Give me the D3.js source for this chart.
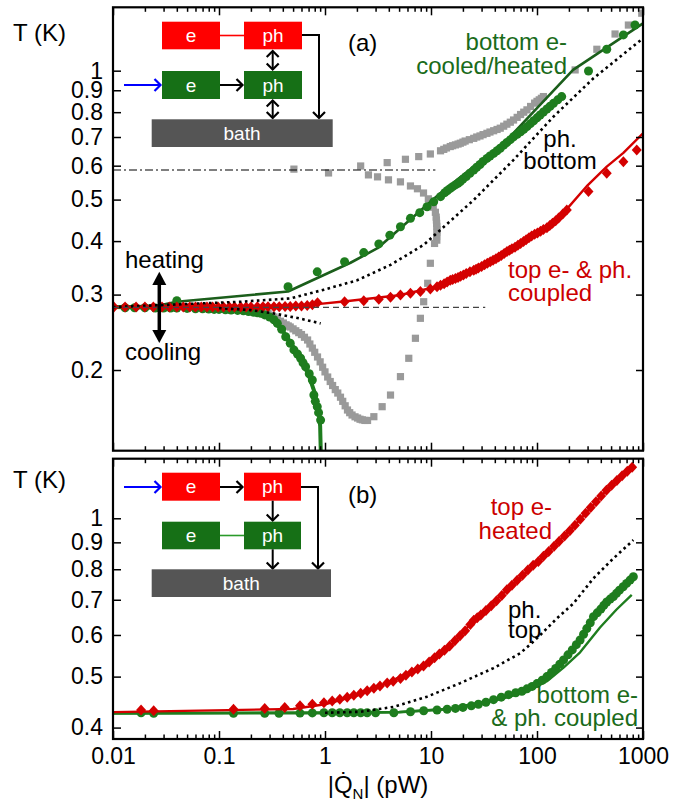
<!DOCTYPE html>
<html><head><meta charset="utf-8">
<script src="https://cdn.jsdelivr.net/npm/d3@7"></script>
<style>body{margin:0;background:#fff} svg{display:block} text{font-family:"Liberation Sans",Arial,Helvetica,sans-serif}</style>
</head><body><svg id="c" width="685" height="805"></svg>
<script>
// ---------------- DATA ----------------
const xMajorTicks = [0.01, 0.1, 1, 10, 100, 1000];
const xTickLabels = ["0.01", "0.1", "1", "10", "100", "1000"];
const yTicksA = [0.2, 0.3, 0.4, 0.5, 0.6, 0.7, 0.8, 0.9, 1];
const yTicksB = [0.4, 0.5, 0.6, 0.7, 0.8, 0.9, 1];
const yTickLabels = {0.2:"0.2",0.3:"0.3",0.4:"0.4",0.5:"0.5",0.6:"0.6",0.7:"0.7",0.8:"0.8",0.9:"0.9",1:"1"};

// Panel (a) reference lines: [T, Qstart, Qend]
const aDashLine = [0.28, 0.01, 32.5];
const aDashDotLine = [0.586, 0.01, 11];

// Panel (a): top e- & ph. coupled (red diamonds) [Q (pW), T (K)]
const aRedPts = [[0.0102,0.2805],[0.013,0.2805],[0.0165,0.2805],[0.020,0.2805],[0.024,0.2805],[0.029,0.2805],[0.034,0.2805],[0.040,0.2805],[0.046,0.2805],[0.053,0.2805],[0.060,0.2805],[0.068,0.2805],[0.077,0.2805],[0.087,0.2805],[0.098,0.2805],[0.11,0.2805],[0.125,0.2805],[0.14,0.2805],[0.16,0.2805],[0.18,0.2805],[0.20,0.2805],[0.23,0.281],[0.26,0.281],[0.29,0.281],[0.33,0.281],[0.37,0.281],[0.42,0.2815],[0.47,0.2815],[0.53,0.282],[0.60,0.282],[0.68,0.283],[0.76,0.284],[0.85,0.287],[1.53,0.2887],[2.32,0.2903],[3.22,0.2924],[4.15,0.2956],[5.15,0.2993],[6.4,0.302],[7.94,0.305],[9.86,0.309],[11.4,0.313],[12.3,0.3155],[13.3,0.318],[14.2,0.321],[15.2,0.324],[16,0.3255],[17,0.327],[18,0.329],[19,0.331],[20.2,0.3335],[21.5,0.336],[23.3,0.339],[25.3,0.342],[26.6,0.344],[28,0.346],[30,0.349],[32,0.352],[34,0.355],[36.2,0.358],[38.5,0.361],[41,0.364],[43.5,0.367],[46,0.370],[49,0.374],[52.1,0.378],[55,0.381],[58,0.384],[62,0.387],[66,0.391],[70,0.395],[74.6,0.399],[79,0.403],[84,0.407],[89,0.411],[95,0.415],[101,0.418],[108,0.422],[115,0.426],[124,0.430],[132,0.435],[140,0.44],[150,0.446],[160,0.453],[175,0.463],[191,0.473],[306,0.522],[455,0.576],[653,0.613],[873,0.653]];
const aRedLine = [[0.01,0.2805],[0.5,0.282],[0.85,0.285],[1.5,0.289],[5,0.299],[11.4,0.313],[25.3,0.343],[52,0.38],[124,0.432],[191,0.475],[300,0.54],[455,0.597],[653,0.643],[1000,0.714]];

// Panel (a): bottom e- heated (green dots, upper branch)
const aGreenHeatPts = [[0.040,0.2903],[0.448,0.313],[0.845,0.339],[1.53,0.358],[2.32,0.376],[3.22,0.394],[4.09,0.413],[5.15,0.432],[6.40,0.452],[7.83,0.466],[9.18,0.481],[10.6,0.494],[12.3,0.508],[13.5,0.519],[14.3,0.525],[15.2,0.531],[16,0.536],[17,0.541],[18,0.546],[18.9,0.551],[20,0.558],[21.5,0.566],[23.3,0.576],[25.3,0.586],[27,0.595],[29,0.604],[31,0.614],[33.7,0.624],[36,0.632],[39,0.641],[42,0.65],[45,0.659],[48.5,0.67],[52,0.68],[56,0.69],[60.1,0.701],[65,0.71],[70,0.72],[75,0.73],[80.4,0.74],[86.5,0.752],[93,0.764],[100,0.776],[107,0.788],[115,0.801],[124,0.814],[133,0.826],[143,0.839],[157,0.855],[171,0.870],[306,0.998],[455,1.122],[653,1.212],[841,1.278]];
// Panel (a): bottom e- cooled (green dots, lower branch)
const aGreenCoolPts = [[0.013,0.2795],[0.016,0.2795],[0.02,0.2795],[0.025,0.279],[0.03,0.279],[0.035,0.279],[0.04,0.279],[0.05,0.2785],[0.06,0.278],[0.07,0.278],[0.08,0.2775],[0.09,0.277],[0.1,0.277],[0.115,0.2765],[0.13,0.276],[0.15,0.2755],[0.17,0.275],[0.19,0.274],[0.21,0.273],[0.23,0.272],[0.248,0.2712],[0.27,0.269],[0.3,0.266],[0.33,0.262],[0.355,0.257],[0.39,0.249],[0.426,0.2391],[0.47,0.231],[0.509,0.2228],[0.55,0.218],[0.589,0.213],[0.62,0.208],[0.656,0.2035],[0.71,0.196],[0.759,0.1895],[0.785,0.1748],[0.81,0.169],[0.845,0.1642],[0.87,0.159],[0.909,0.1528]];
const aGreenHeatLine = [[0.01,0.2805],[0.027,0.283],[0.04,0.2887],[0.448,0.305],[1.74,0.356],[3.13,0.385],[12.3,0.518],[52.1,0.689],[219,1.004],[1000,1.29]];
const aGreenCoolLine = [[0.01,0.2805],[0.1,0.278],[0.2,0.274],[0.3,0.265],[0.4,0.247],[0.5,0.227],[0.6,0.21],[0.7,0.195],[0.8,0.177],[0.87,0.16],[0.9,0.148],[0.915,0.125]];
// Panel (a): phonon bottom (black dotted)
const aPhHeat = [[0.01,0.2805],[0.16,0.2887],[0.474,0.294],[0.977,0.308],[2.01,0.324],[4.15,0.352],[8.53,0.392],[25.3,0.499],[60.1,0.619],[143,0.781],[341,0.96],[1000,1.19]];
const aPhCool = [[0.1,0.279],[0.2,0.276],[0.33,0.271],[0.55,0.2645],[0.91,0.257]];
// Panel (a): gray squares
const aGrayPts = [[0.2,0.278],[0.25,0.276],[0.29,0.271],[0.31,0.2685],[0.33,0.266],[0.355,0.263],[0.38,0.26],[0.405,0.2575],[0.43,0.255],[0.45,0.2535],[0.47,0.252],[0.5,0.2495],[0.53,0.247],[0.565,0.2445],[0.6,0.242],[0.64,0.2385],[0.685,0.235],[0.72,0.23],[0.76,0.225],[0.8,0.22],[0.85,0.2145],[0.9,0.209],[0.95,0.203],[1.0,0.198],[1.06,0.1926],[1.12,0.188],[1.18,0.184],[1.25,0.18],[1.32,0.1767],[1.4,0.1728],[1.47,0.169],[1.55,0.165],[1.63,0.1613],[1.71,0.159],[1.8,0.157],[1.92,0.1555],[2.03,0.1545],[2.14,0.1535],[2.25,0.153],[2.38,0.1525],[2.52,0.1525],[2.89,0.1556],[3.46,0.1642],[4.15,0.1748],[5.15,0.193],[6.17,0.213],[7.13,0.2372],[7.94,0.2641],[8.53,0.2887],[9.31,0.3188],[9.86,0.355],[10.8,0.395],[11.35,0.402],[11.3,0.41],[11.4,0.418],[11.4,0.425],[11.35,0.433],[11.3,0.44],[11.25,0.448],[11.2,0.455],[11,0.467],[10.5,0.48],[9.44,0.502],[8.5,0.518],[7.45,0.530],[6.4,0.538],[5.15,0.55],[3.97,0.556],[3.13,0.565],[2.57,0.571],[1.08,0.577],[0.509,0.589],[2.17,0.599],[3.86,0.610],[5.74,0.621],[7.66,0.63],[9.86,0.639],[12.3,0.65],[13.2,0.655],[14,0.66],[15.2,0.665],[16,0.668],[17,0.671],[18,0.674],[18.9,0.677],[20,0.681],[21,0.685],[23,0.69],[25.3,0.695],[27,0.70],[29,0.704],[31,0.709],[33.7,0.714],[36,0.719],[39,0.724],[42,0.729],[45,0.734],[48.5,0.742],[52,0.75],[56,0.758],[60.1,0.767],[65,0.778],[70,0.79],[75,0.8],[80.4,0.81],[87,0.825],[95,0.84],[100,0.848],[105,0.855],[110,0.862],[115,0.87],[229,1.004],[367,1.122],[545,1.218],[728,1.278],[973,1.362]];

// Panel (b): top e- heated (red diamonds)
const bRedPts = [[0.0184,0.432],[0.0242,0.4306],[0.137,0.4334],[0.27,0.435],[0.417,0.437],[0.581,0.440],[0.759,0.443],[0.977,0.446],[1.17,0.4496],[1.38,0.453],[1.62,0.457],[1.87,0.461],[2.17,0.465],[2.5,0.47],[2.89,0.475],[3.3,0.48],[3.86,0.486],[4.4,0.49],[5.15,0.496],[5.8,0.503],[6.6,0.51],[7.5,0.517],[8.5,0.524],[9.6,0.533],[10.8,0.543],[12,0.552],[13.4,0.561],[15,0.572],[16.8,0.585],[18.8,0.598],[21,0.611],[23.5,0.628],[25.3,0.640],[27.3,0.647],[29.5,0.655],[33,0.668],[37,0.682],[41.5,0.697],[46.5,0.713],[52,0.731],[58,0.746],[65,0.762],[73,0.779],[82,0.797],[92,0.814],[103,0.828],[115,0.847],[129,0.865],[145,0.885],[162,0.904],[182,0.925],[204,0.947],[228,0.97],[256,0.996],[287,1.022],[321,1.048],[360,1.075],[403,1.103],[452,1.131],[506,1.155],[567,1.18],[635,1.205],[711,1.228],[790,1.25]];
const bRedLine = [[0.01,0.428],[0.5,0.434],[1,0.443],[2,0.46],[4.46,0.493],[9.2,0.53],[16.3,0.579],[25.3,0.64],[52,0.731],[107,0.833],[221,0.964],[455,1.132],[811,1.254]];
// Panel (b): bottom e- & ph. coupled (green dots + two model lines)
const bGreenPts = [[0.0184,0.4268],[0.0242,0.4257],[0.137,0.4257],[0.27,0.4257],[0.368,0.4257],[0.581,0.4262],[0.759,0.4265],[0.977,0.4268],[1.17,0.4268],[1.38,0.4268],[1.62,0.4268],[1.87,0.4268],[2.17,0.4268],[2.5,0.4268],[3.0,0.4268],[4.46,0.4268],[6.4,0.4287],[8.53,0.4306],[11.4,0.432],[14.2,0.4334],[17,0.435],[20,0.437],[24,0.44],[28,0.443],[33,0.447],[38.9,0.452],[46,0.457],[54,0.462],[63,0.466],[72,0.469],[80.4,0.474],[90,0.479],[100,0.485],[112,0.492],[124,0.5],[137,0.509],[150,0.518],[164,0.528],[178,0.538],[196,0.55],[215,0.562],[235,0.575],[255,0.587],[275,0.602],[295,0.617],[318,0.633],[341,0.65],[370,0.661],[400,0.672],[427,0.683],[455,0.693],[490,0.702],[526,0.71],[562,0.72],[600,0.73],[650,0.741],[700,0.752],[755,0.763],[811,0.774]];
const bGreenLine1 = [[0.01,0.4257],[1,0.4262],[5,0.428],[15,0.434],[40,0.452],[80,0.472],[124,0.5],[178,0.538],[255,0.587],[341,0.648],[526,0.71],[811,0.772]];
const bGreenLine2 = [[0.01,0.4257],[5,0.428],[15,0.434],[40,0.45],[80,0.468],[124,0.49],[178,0.52],[255,0.556],[393,0.62],[560,0.67],[783,0.715]];
// Panel (b): phonon top (black dotted)
const bPhTop = [[1,0.4268],[2.17,0.4287],[4.46,0.438],[9.18,0.458],[18.9,0.486],[38.9,0.519],[69.5,0.554],[96.2,0.587],[154,0.645],[221,0.689],[341,0.769],[526,0.839],[811,0.909]];

// ---------------- STYLE ----------------
const RED = "#d40000", RED_BOX = "#ff0000", GREEN = "#1e7d1e", GREEN_LINE = "#1b5e1b", GREEN_BOX = "#167016",
      GRAY = "#9a9a9a", TXT_GREEN = "#1a6b1a", TXT_RED = "#cc0000", FS = 24, TFS = 23;

const svg = d3.select("#c");
const x = d3.scaleLog().domain([0.01, 1000]).range([113, 643]);
const yA = d3.scaleLog().domain([0.1296, 1.406]).range([450.7, 7.3]);
const yB = d3.scaleLog().domain([0.3805, 1.298]).range([739, 458.7]);

const xMinor = [];
xMajorTicks.slice(0, -1).forEach(d => { for (let k = 2; k <= 9; k++) xMinor.push(d * k); });

const defs = svg.append("defs");
defs.append("clipPath").attr("id", "clipA").append("rect").attr("x", 113).attr("y", 7.3).attr("width", 530).attr("height", 443.4);
defs.append("clipPath").attr("id", "clipB").append("rect").attr("x", 113).attr("y", 458.7).attr("width", 530).attr("height", 280.3);

function axes(y, yTicks, labelsX) {
  const [b, t] = y.range();
  const fmtNone = () => "";
  const styleAx = g => { g.select(".domain").remove(); g.selectAll(".tick line").attr("stroke", "#000").attr("stroke-width", 1.5);
    g.selectAll("text").attr("font-size", TFS).attr("fill", "#000").attr("font-family", "Liberation Sans, Arial, sans-serif"); };
  svg.append("g").attr("transform", `translate(0,${b})`).call(d3.axisBottom(x).tickValues(xMajorTicks).tickSize(-8).tickPadding(9)
     .tickFormat(labelsX ? ((d, i) => xTickLabels[i]) : fmtNone)).call(styleAx);
  svg.append("g").attr("transform", `translate(0,${b})`).call(d3.axisBottom(x).tickValues(xMinor).tickSize(-4.5).tickFormat(fmtNone)).call(styleAx);
  svg.append("g").attr("transform", `translate(0,${t})`).call(d3.axisTop(x).tickValues(xMajorTicks).tickSize(-8).tickFormat(fmtNone)).call(styleAx);
  svg.append("g").attr("transform", `translate(0,${t})`).call(d3.axisTop(x).tickValues(xMinor).tickSize(-4.5).tickFormat(fmtNone)).call(styleAx);
  svg.append("g").attr("transform", `translate(113,0)`).call(d3.axisLeft(y).tickValues(yTicks).tickSize(-8).tickPadding(10)
     .tickFormat(d => yTickLabels[d])).call(styleAx);
  svg.append("g").attr("transform", `translate(643,0)`).call(d3.axisRight(y).tickValues(yTicks).tickSize(-7).tickFormat(fmtNone)).call(styleAx);
  svg.append("rect").attr("x", 113).attr("y", t).attr("width", 530).attr("height", b - t)
     .attr("fill", "none").attr("stroke", "#000").attr("stroke-width", 2.2);
}

function linePath(g, y, data, color, width, dash) {
  g.append("path").datum(data).attr("d", d3.line().x(d => x(d[0])).y(d => y(d[1])))
    .attr("fill", "none").attr("stroke", color).attr("stroke-width", width)
    .attr("stroke-dasharray", dash || null).attr("stroke-linejoin", "round");
}
function dots(g, y, data, color, r) {
  g.selectAll(null).data(data).enter().append("circle").attr("cx", d => x(d[0])).attr("cy", d => y(d[1])).attr("r", r).attr("fill", color);
}
function diamonds(g, y, data, color) {
  g.selectAll(null).data(data).enter().append("path").attr("d", "M0,-5.5L5,0L0,5.5L-5,0Z")
    .attr("transform", d => `translate(${x(d[0])},${y(d[1])})`).attr("fill", color);
}
function squares(g, y, data, color) {
  g.selectAll(null).data(data).enter().append("rect").attr("x", d => x(d[0]) - 3.6).attr("y", d => y(d[1]) - 3.6)
    .attr("width", 7.2).attr("height", 7.2).attr("fill", color);
}
function label(lines, xPos, yPos, anchor, color, lh) {
  const t = svg.append("text").attr("x", xPos).attr("y", yPos).attr("text-anchor", anchor).attr("font-size", FS).attr("fill", color);
  lines.forEach((s, i) => t.append("tspan").attr("x", xPos).attr("y", yPos + i * lh).text(s));
}

// ---------------- PANEL A ----------------
const gA = svg.append("g").attr("clip-path", "url(#clipA)");
squares(gA, yA, aGrayPts, GRAY);
dots(gA, yA, aGreenCoolPts, GREEN, 4.5);
linePath(gA, yA, aGreenCoolLine, GREEN, 4);
linePath(gA, yA, aGreenHeatLine, GREEN_LINE, 2.6);
dots(gA, yA, aGreenHeatPts, GREEN, 4.5);
linePath(gA, yA, aRedLine, RED, 2.4);
diamonds(gA, yA, aRedPts, RED);
linePath(gA, yA, aPhHeat, "#000", 2.6, "2.6,3.4");
linePath(gA, yA, aPhCool, "#000", 2.6, "2.6,3.4");
gA.append("line").attr("x1", x(aDashLine[1])).attr("x2", x(aDashLine[2])).attr("y1", yA(aDashLine[0])).attr("y2", yA(aDashLine[0]))
  .attr("stroke", "#444").attr("stroke-width", 1.3).attr("stroke-dasharray", "6,4");
gA.append("line").attr("x1", x(aDashDotLine[1])).attr("x2", x(aDashDotLine[2])).attr("y1", yA(aDashDotLine[0])).attr("y2", yA(aDashDotLine[0]))
  .attr("stroke", "#000").attr("stroke-width", 1.1).attr("stroke-dasharray", "8,3,2,3");
axes(yA, yTicksA, false);

// ---------------- PANEL B ----------------
const gB = svg.append("g").attr("clip-path", "url(#clipB)");
linePath(gB, yB, bGreenLine2, GREEN, 2.4);
linePath(gB, yB, bGreenLine1, GREEN, 2.8);
dots(gB, yB, bGreenPts, GREEN, 4.5);
linePath(gB, yB, bRedLine, RED, 2.4);
diamonds(gB, yB, bRedPts, RED);
linePath(gB, yB, bPhTop, "#000", 2.6, "2.6,3.4");
axes(yB, yTicksB, true);

// ---------------- TEXT ----------------
svg.append("text").attr("x", 13).attr("y", 41).attr("font-size", FS).text("T (K)");
svg.append("text").attr("x", 13).attr("y", 488).attr("font-size", FS).text("T (K)");
const xt = svg.append("text").attr("x", 378).attr("y", 793).attr("text-anchor", "middle").attr("font-size", FS);
xt.append("tspan").text("|Q\u0307");
xt.append("tspan").attr("font-size", 15).attr("dy", 6).text("N");
xt.append("tspan").attr("dy", -6).text("| (pW)");

label(["(a)"], 348, 51, "start", "#000", 0);
label(["bottom e-", "cooled/heated"], 567, 50, "end", TXT_GREEN, 23.5);
label(["ph.", "bottom"], 560, 147, "middle", "#000", 21.5);
label(["top e- & ph.", "coupled"], 508, 278, "start", TXT_RED, 23);
label(["heating"], 125, 268, "start", "#000", 0);
label(["cooling"], 125, 360, "start", "#000", 0);
label(["(b)"], 348, 503, "start", "#000", 0);
label(["top e-", "heated"], 552, 515, "end", TXT_RED, 24);
label(["ph.", "top"], 508, 618, "start", "#000", 20);
label(["bottom e-", "& ph. coupled"], 638, 703, "end", TXT_GREEN, 22.5);

// heating / cooling arrow
svg.append("line").attr("x1", 159.3).attr("x2", 159.3).attr("y1", 282).attr("y2", 333).attr("stroke", "#000").attr("stroke-width", 3.5);
svg.append("path").attr("d", "M159.3,271.7L152.3,285L166.3,285Z").attr("fill", "#000");
svg.append("path").attr("d", "M159.3,343L152.3,330L166.3,330Z").attr("fill", "#000");

// ---------------- SCHEMATICS ----------------
function box(x0, y0, w, h, fill, txt) {
  svg.append("rect").attr("x", x0).attr("y", y0).attr("width", w).attr("height", h).attr("fill", fill);
  svg.append("text").attr("x", x0 + w / 2).attr("y", y0 + h / 2 + 6.5).attr("text-anchor", "middle")
    .attr("font-size", 19).attr("fill", "#fff").text(txt);
}
function seg(pts, color, w) {
  svg.append("path").attr("d", d3.line()(pts)).attr("fill", "none").attr("stroke", color || "#000").attr("stroke-width", w || 2);
}
function head(x0, y0, dir, color) {
  const s = 6;
  let p;
  if (dir === "r") p = [[x0 - s, y0 - s], [x0, y0], [x0 - s, y0 + s]];
  if (dir === "d") p = [[x0 - s, y0 - s], [x0, y0], [x0 + s, y0 - s]];
  if (dir === "u") p = [[x0 - s, y0 + s], [x0, y0], [x0 + s, y0 + s]];
  seg(p, color, 2.2);
}
// panel a schematic
box(162, 21.7, 58, 27.6, RED_BOX, "e");
box(244, 21.7, 58, 27.6, RED_BOX, "ph");
seg([[220, 35.5], [244, 35.5]], RED_BOX, 1.6);
box(162, 71, 58, 28, GREEN_BOX, "e");
box(244, 71, 58, 28, GREEN_BOX, "ph");
seg([[124, 85], [160, 85]], "#0000ff", 2.2); head(160.5, 85, "r", "#0000ff");
seg([[220, 85], [242, 85]]); head(242.5, 85, "r");
seg([[272.7, 51], [272.7, 69.5]]); head(272.7, 51, "u"); head(272.7, 69.5, "d");
seg([[272.7, 100.5], [272.7, 118]]); head(272.7, 100.5, "u"); head(272.7, 118, "d");
seg([[302, 35], [319, 35], [319, 118]]); head(319, 118, "d");
svg.append("rect").attr("x", 151.7).attr("y", 119.3).attr("width", 181).attr("height", 27.7).attr("fill", "#555555");
svg.append("text").attr("x", 242).attr("y", 140).attr("text-anchor", "middle").attr("font-size", 19).attr("fill", "#fff").text("bath");
// panel b schematic
box(162, 472.7, 58, 28, RED_BOX, "e");
box(244, 472.7, 57, 28, RED_BOX, "ph");
seg([[124, 487], [160, 487]], "#0000ff", 2.2); head(160.5, 487, "r", "#0000ff");
seg([[220, 487], [242, 487]]); head(242.5, 487, "r");
seg([[301, 487], [318, 487], [318, 568.5]]); head(318, 568.5, "d");
seg([[272.7, 500.7], [272.7, 520.5]]); head(272.7, 520.5, "d");
box(162, 521.7, 58, 27.6, GREEN_BOX, "e");
box(244, 521.7, 57, 27.6, GREEN_BOX, "ph");
seg([[220, 535.5], [244, 535.5]], "#2a9a2a", 1.6);
seg([[272.7, 549.3], [272.7, 568.5]]); head(272.7, 568.5, "d");
svg.append("rect").attr("x", 151.7).attr("y", 569.3).attr("width", 179.3).attr("height", 27.7).attr("fill", "#555555");
svg.append("text").attr("x", 241.3).attr("y", 590).attr("text-anchor", "middle").attr("font-size", 19).attr("fill", "#fff").text("bath");
</script></body></html>
